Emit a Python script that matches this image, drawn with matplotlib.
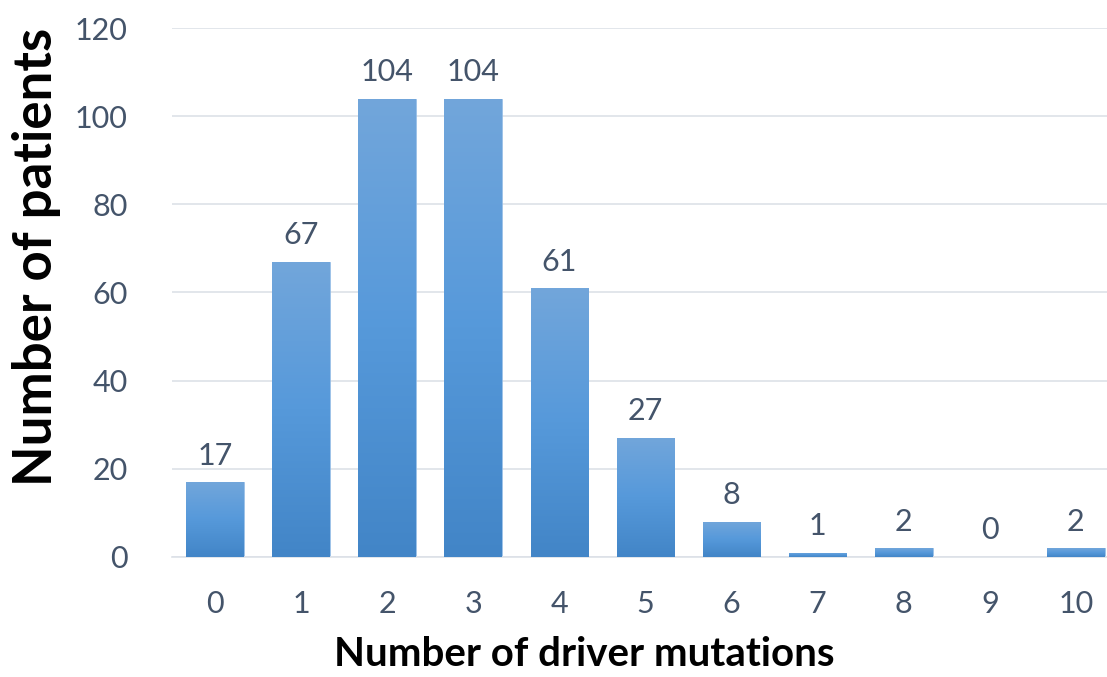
import matplotlib
matplotlib.use("Agg")
import matplotlib.pyplot as plt
import numpy as np
from matplotlib.colors import LinearSegmentedColormap

categories = ["0", "1", "2", "3", "4", "5", "6", "7", "8", "9", "10"]
patients = [17, 67, 104, 104, 61, 27, 8, 1, 2, 0, 2]
y_ticks = [0, 20, 40, 60, 80, 100, 120]

text_color = "#44546A"
grid_color = "#DDE1E8"
plt.rcParams["font.family"] = ["Lato", "DejaVu Sans"]

fig = plt.figure(figsize=(11.07, 6.77), dpi=100)
ax = fig.add_axes([0.1554, 0.1773, 0.8554, 0.7813])

x = np.arange(len(categories))
bars = ax.bar(x, patients, width=0.67, color="#5B9BD5", zorder=2)

# vertical gradient inside each bar: lighter at top, darker at bottom
cmap = LinearSegmentedColormap.from_list("bar", ["#4285C7", "#5699DA", "#72A6DB"])
grad = np.linspace(0, 1, 256).reshape(-1, 1)
for b in bars:
    h = b.get_height()
    if h <= 0:
        continue
    x0 = b.get_x()
    w = b.get_width()
    im = ax.imshow(grad, cmap=cmap, aspect="auto", origin="lower",
                   extent=[x0, x0 + w, 0, h], zorder=3)
    im.set_clip_path(b)
    b.set_facecolor("none")
    b.set_edgecolor("#8DB8E4")
    b.set_linewidth(0.6)

for xi, v in zip(x, patients):
    ax.annotate(str(v), (xi, v), xytext=(0, 9), textcoords="offset points",
                ha="center", va="bottom", fontsize=22, color=text_color)

ax.set_xlim(-0.5, len(categories) - 0.5)
ax.set_ylim(0, 120)
ax.set_yticks(y_ticks)
ax.set_xticks(x)
ax.set_xticklabels(categories)
ax.tick_params(axis="both", length=0, labelsize=22, colors=text_color)
ax.tick_params(axis="x", pad=24)
ax.tick_params(axis="y", pad=32)
ax.yaxis.grid(True, color=grid_color, linewidth=1.2, zorder=0)
ax.set_axisbelow(True)
for s in ["top", "right", "left"]:
    ax.spines[s].set_visible(False)
ax.spines["bottom"].set_color(grid_color)
ax.spines["bottom"].set_linewidth(1.2)

fig.text(0.528, 0.006, "Number of driver mutations", fontsize=29,
         fontweight="bold", color="black", ha="center", va="bottom")
fig.text(0.033, 0.62, "Number of patients", rotation=90, fontsize=38,
         fontweight="bold", color="black", ha="center", va="center")

fig.savefig("out.png", dpi=100)
